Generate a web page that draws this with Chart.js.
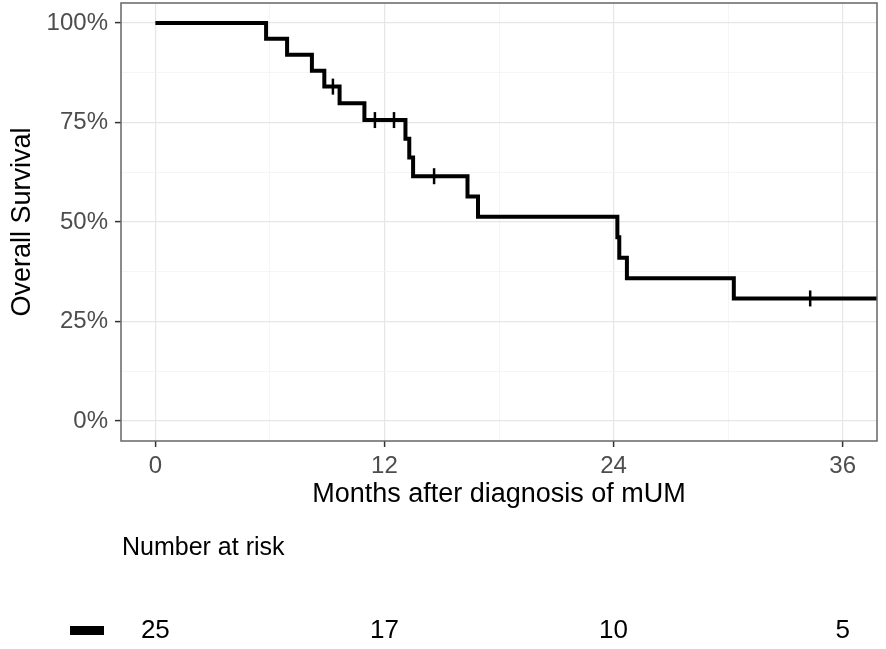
<!DOCTYPE html>
<html>
<head>
<meta charset="utf-8">
<title>Overall Survival</title>
<script src="https://cdn.jsdelivr.net/npm/chart.js@4.4.1/dist/chart.umd.min.js"></script>
<style>
  html, body { margin: 0; padding: 0; background: #fff; }
  #wrap { width: 886px; height: 649px; }
</style>
</head>
<body>
<div id="wrap"><canvas id="km" width="886" height="649"></canvas></div>
<script>
// Kaplan-Meier steps (months, survival %)
const kmTimes = [0, 5.8, 6.9, 8.2, 8.85, 9.65, 10.95, 13.1, 13.3, 13.5, 16.35, 16.9, 24.2, 24.3, 24.7, 30.3, 39];
const kmSurv  = [100, 96, 92, 88, 84, 79.8, 75.6, 70.9, 66.2, 61.5, 56.4, 51.3, 46.2, 41.0, 35.9, 30.8, 30.8];

// censored observations
const censorTimes = [9.3, 11.5, 12.5, 14.6, 34.3];
const censorSurv  = [84, 75.6, 75.6, 61.5, 30.8];

// axes
const xGridTicks = [0, 6, 12, 18, 24, 30, 36];
const xLabelTicks = [0, 12, 24, 36];
const yGridTicks = [0, 12.5, 25, 37.5, 50, 62.5, 75, 87.5, 100];
const yLabelTicks = [0, 25, 50, 75, 100];

// number at risk table
const riskTimes = [0, 12, 24, 36];
const riskCounts = [25, 17, 10, 5];

const FONT = "'Liberation Sans', Arial, sans-serif";

const kmLine = kmTimes.map((t, i) => ({ x: t, y: kmSurv[i] }));
const censorPts = censorTimes.map((t, i) => ({ x: t, y: censorSurv[i] }));

const isMajorX = v => xLabelTicks.includes(v);
const isMajorY = v => yLabelTicks.includes(v);

// panel border + risk table
const extras = {
  id: 'extras',
  afterDraw(chart) {
    const { ctx, chartArea: a } = chart;
    const xs = chart.scales.x;
    ctx.save();
    ctx.strokeStyle = '#666';
    ctx.lineWidth = 1.5;
    ctx.strokeRect(a.left, a.top, a.right - a.left, a.bottom - a.top);

    ctx.fillStyle = '#000';
    ctx.font = '25px ' + FONT;
    ctx.textAlign = 'left';
    ctx.textBaseline = 'middle';
    ctx.fillText('Number at risk', 122, 548);

    ctx.fillRect(70, 626, 34, 9);
    ctx.font = '26px ' + FONT;
    ctx.textAlign = 'center';
    riskTimes.forEach((t, i) => {
      ctx.fillText(String(riskCounts[i]), xs.getPixelForValue(t), 631);
    });
    ctx.restore();
  }
};

new Chart(document.getElementById('km'), {
  type: 'line',
  data: {
    datasets: [
      {
        data: kmLine,
        stepped: 'before',
        borderColor: '#000',
        borderWidth: 4,
        borderCapStyle: 'butt',
        borderJoinStyle: 'miter',
        pointRadius: 0,
        fill: false
      },
      {
        type: 'scatter',
        data: censorPts,
        pointStyle: 'line',
        rotation: 90,
        pointRadius: 8,
        pointBorderWidth: 2.5,
        borderColor: '#000',
        backgroundColor: '#000'
      }
    ]
  },
  options: {
    responsive: false,
    animation: false,
    layout: { autoPadding: false, padding: { left: 0, top: 3, right: 9, bottom: 138 } },
    plugins: { legend: { display: false }, tooltip: { enabled: false } },
    scales: {
      x: {
        type: 'linear',
        min: -1.8,
        max: 37.8,
        afterBuildTicks: s => { s.ticks = xGridTicks.map(v => ({ value: v })); },
        afterFit: s => { s.height = 70; s.paddingLeft = 0; s.paddingRight = 0; },
        border: { display: false },
        grid: {
          color: c => isMajorX(c.tick.value) ? '#e6e6e6' : '#f3f3f3',
          lineWidth: c => isMajorX(c.tick.value) ? 1.2 : 0.8,
          tickColor: c => isMajorX(c.tick.value) ? '#333' : 'rgba(0,0,0,0)',
          tickLength: 6,
          tickWidth: 1.5
        },
        ticks: {
          padding: 5,
          color: '#4d4d4d',
          font: { family: FONT, size: 24 },
          maxRotation: 0,
          callback: v => isMajorX(v) ? String(v) : ''
        },
        title: {
          display: true,
          text: 'Months after diagnosis of mUM',
          color: '#000',
          font: { family: FONT, size: 27 },
          padding: { top: 0, bottom: 0 }
        }
      },
      y: {
        min: -5,
        max: 105,
        afterBuildTicks: s => { s.ticks = yGridTicks.map(v => ({ value: v })); },
        afterFit: s => { s.width = 121; s.paddingTop = 0; s.paddingBottom = 0; },
        border: { display: false },
        grid: {
          color: c => isMajorY(c.tick.value) ? '#e6e6e6' : '#f3f3f3',
          lineWidth: c => isMajorY(c.tick.value) ? 1.2 : 0.8,
          tickColor: c => isMajorY(c.tick.value) ? '#333' : 'rgba(0,0,0,0)',
          tickLength: 6,
          tickWidth: 1.5
        },
        ticks: {
          padding: 7,
          color: '#4d4d4d',
          font: { family: FONT, size: 24 },
          callback: v => isMajorY(v) ? v + '%' : ''
        },
        title: {
          display: true,
          text: 'Overall Survival',
          color: '#000',
          font: { family: FONT, size: 27 },
          padding: { top: 6, bottom: 0 }
        }
      }
    }
  },
  plugins: [extras]
});
</script>
</body>
</html>
